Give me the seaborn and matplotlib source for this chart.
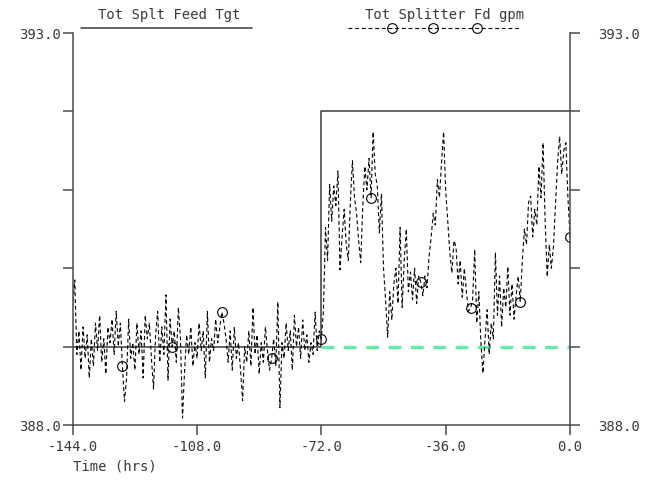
import numpy as np
import seaborn as sns
import matplotlib.pyplot as plt
from matplotlib.lines import Line2D
from matplotlib.transforms import ScaledTranslation

# ---- data ----
tgt_times = [-144.0, -72.0, 0.0]
tgt_values = [389.0, 392.0, 392.0]

base_times = [-72.0, 0.0]
base_values = [389.0, 389.0]

# splitter feed, one sample every 0.6 hrs from -144 to 0
feed_values = [
    389.50, 389.85, 388.90, 389.20, 388.70, 389.25, 388.85, 389.15, 388.60, 389.10,
    388.75, 389.30, 388.95, 389.40, 388.80, 389.10, 388.65, 389.25, 389.05, 389.35,
    388.90, 389.45, 389.00, 389.30, 388.75, 388.30, 388.60, 389.35, 388.85, 389.05,
    388.70, 389.30, 388.90, 389.20, 388.60, 389.40, 389.10, 389.30, 388.85, 388.46,
    389.15, 389.45, 388.80, 389.25, 388.90, 389.66, 388.57, 389.35, 389.00, 389.20,
    388.80, 389.50, 389.10, 388.09, 388.70, 389.15, 388.90, 389.25, 388.75, 389.05,
    388.85, 389.30, 388.95, 389.20, 388.60, 389.45, 388.80, 389.10, 388.95, 389.35,
    389.05, 389.25, 389.44, 389.30, 389.10, 388.80, 389.20, 388.70, 389.25, 388.85,
    389.05, 388.70, 388.31, 389.00, 388.80, 389.20, 388.75, 389.50, 388.90, 389.15,
    388.65, 389.05, 388.80, 389.25, 388.95, 388.70, 388.85, 389.10, 388.75, 389.57,
    388.22, 389.05, 388.85, 389.30, 388.95, 389.20, 388.70, 389.40, 389.00, 389.25,
    388.85, 389.34, 388.95, 389.15, 388.80, 389.05, 388.90, 389.44, 388.95, 389.20,
    389.10,
    389.45, 390.52, 390.10, 391.07, 390.60, 391.05, 390.80, 391.24, 389.98, 390.40,
    390.75, 390.30, 390.10, 390.85, 391.37, 390.90, 390.70, 390.35, 390.07, 390.80,
    391.30, 391.00, 391.40, 390.90, 391.74, 391.20, 391.05, 390.45, 390.95, 390.00,
    389.60, 389.12, 389.70, 389.34, 389.80, 390.00, 389.55, 390.52, 389.50, 390.10,
    390.50, 389.70, 389.95, 389.60, 390.00, 389.55, 389.90, 389.82, 389.65, 389.90,
    389.75, 390.15, 390.40, 390.70, 390.55, 391.13, 390.90, 391.35, 391.74, 391.00,
    390.60, 390.20, 389.94, 390.35, 390.27, 389.80, 390.10, 389.63, 390.00, 389.70,
    389.45, 389.49, 389.60, 390.24, 389.30, 389.70, 389.05, 388.66, 389.10, 389.47,
    388.90, 389.30, 389.10, 390.20, 389.40, 389.90, 389.25, 389.75, 389.50, 390.02,
    389.40, 389.80, 389.35, 389.65, 389.90, 389.57, 390.10, 390.50, 390.30, 390.84,
    390.92, 390.40, 390.75, 390.55, 391.30, 390.90, 391.60, 390.60, 389.89, 390.30,
    390.00, 390.27, 390.80, 391.35, 391.68, 391.20, 391.50, 391.60, 390.90, 390.40,
]
feed_times = np.round(-144.0 + 0.6 * np.arange(len(feed_values)), 1)

x_ticks = [-144, -108, -72, -36, 0]
x_ticklabels = ["-144.0", "-108.0", "-72.0", "-36.0", "0.0"]
y_ticks = [388, 389, 390, 391, 392, 393]
y_ticklabels = ["388.0", "", "", "", "", "393.0"]

# ---- style ----
sns.set_style("white")
plt.rcParams["font.family"] = ["DejaVu Sans Mono"]
plt.rcParams["font.size"] = 10
axis_col = "#4a4a4a"
text_col = "#3a3a3a"

W, H = 650, 492
fig = plt.figure(figsize=(6.5, 4.92), dpi=100)
ax = fig.add_axes([72.7 / W, 1 - 425 / H, (570 - 72.7) / W, (425 - 33) / H])

sns.lineplot(x=tgt_times, y=tgt_values, ax=ax, color="#3a3a3a", lw=1.1,
             drawstyle="steps-post", estimator=None)
sns.lineplot(x=base_times, y=base_values, ax=ax, color="#5ef0a2", lw=2.3,
             linestyle=(0, (4, 3)), estimator=None)
sns.lineplot(x=feed_times, y=feed_values, ax=ax, color="black", lw=0.8,
             linestyle=(0, (3.5, 2.5)), marker="o", markevery=(24, 24), markersize=7,
             markerfacecolor="none", markeredgecolor="black", markeredgewidth=0.8,
             estimator=None)

ax.set_xlim(-144, 0)
ax.set_ylim(388, 393)
ax.set_xticks(x_ticks)
ax.set_xticklabels(x_ticklabels)
ax.set_yticks(y_ticks)
ax.set_yticklabels(y_ticklabels)
ax.set_xlabel("")
ax.set_ylabel("")

for side in ["left", "right", "bottom"]:
    ax.spines[side].set_color(axis_col)
    ax.spines[side].set_linewidth(1.1)
ax.spines["top"].set_visible(False)

ax.tick_params(axis="x", direction="out", length=7.5, width=1.1, color=axis_col,
               labelcolor=text_col, pad=3, bottom=True)
ax.tick_params(axis="y", direction="out", length=7.5, width=1.1, color=axis_col,
               labelcolor=text_col, left=True, right=True, labelleft=True,
               labelright=True, pad=1)
# right labels sit further out
for t in ax.yaxis.get_major_ticks():
    t.label2.set_transform(t.label2.get_transform() +
                           ScaledTranslation(12 / 72, 0, fig.dpi_scale_trans))

# legend drawn by hand above the axes
fig.text(169 / W, 1 - 15 / H, "Tot Splt Feed Tgt", ha="center", va="center", color=text_col)
fig.add_artist(Line2D([81 / W, 252 / W], [1 - 28 / H, 1 - 28 / H], color="#3a3a3a", lw=1.1))

fig.text(445 / W, 1 - 15 / H, "Tot Splitter Fd gpm", ha="center", va="center", color=text_col)
fig.add_artist(Line2D([348 / W, 520 / W], [1 - 28 / H, 1 - 28 / H], color="black", lw=0.8,
                      linestyle=(0, (3.5, 2.5))))
fig.add_artist(Line2D([392 / W, 433 / W, 477 / W], [1 - 28 / H] * 3, color="black", lw=0,
                      marker="o", markersize=7, markerfacecolor="none",
                      markeredgecolor="black", markeredgewidth=0.8))

fig.text(73 / W, 1 - 466 / H, "Time (hrs)", ha="left", va="center", color=text_col)

fig.savefig("out.png", dpi=100)
